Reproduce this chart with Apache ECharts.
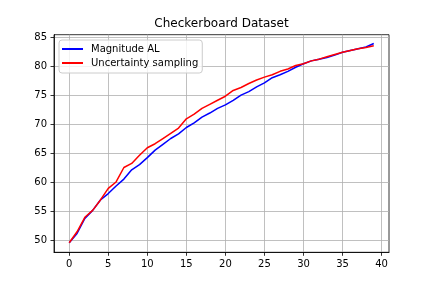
<!DOCTYPE html>
<html>
<head>
<meta charset="utf-8">
<script src="https://cdn.jsdelivr.net/npm/echarts@6/dist/echarts.min.js"></script>
<style>html,body{margin:0;padding:0;background:#fff;}#c{width:432px;height:288px;}</style>
</head>
<body>
<div id="c"></div>
<script>
const titleText = 'Checkerboard Dataset';
const seriesNames = ['Magnitude AL', 'Uncertainty sampling'];
const xValues = [0,1,2,3,4,5,6,7,8,9,10,11,12,13,14,15,16,17,18,19,20,21,22,23,24,25,26,27,28,29,30,31,32,33,34,35,36,37,38,39];
const magnitudeAL = [49.6, 51.2, 53.8, 55.2, 57.0, 58.1, 59.4, 60.6, 62.2, 63.1, 64.3, 65.6, 66.6, 67.6, 68.4, 69.5, 70.3, 71.3, 72.0, 72.8, 73.4, 74.2, 75.1, 75.7, 76.5, 77.2, 78.1, 78.6, 79.2, 79.9, 80.5, 81.0, 81.3, 81.6, 82.0, 82.5, 82.8, 83.1, 83.4, 84.0];
const uncertainty = [49.6, 51.5, 54.0, 55.2, 57.0, 59.0, 60.1, 62.6, 63.3, 64.7, 66.0, 66.7, 67.6, 68.5, 69.4, 71.0, 71.8, 72.8, 73.5, 74.2, 74.9, 75.9, 76.4, 77.1, 77.7, 78.2, 78.6, 79.2, 79.6, 80.2, 80.5, 81.0, 81.3, 81.7, 82.1, 82.5, 82.8, 83.1, 83.3, 83.6];
const xTicks = [0, 5, 10, 15, 20, 25, 30, 35, 40];
const yTicks = [50, 55, 60, 65, 70, 75, 80, 85];

const font = 'DejaVu Sans';
const chart = echarts.init(document.getElementById('c'), null, {renderer: 'canvas'});
const pairs = arr => xValues.map((x, i) => [x, arr[i]]);

const axisCommon = {
  type: 'value',
  axisLine: {show: true, onZero: false, lineStyle: {color: '#000', width: 0.8}},
  axisTick: {show: true, inside: false, length: 3.5, lineStyle: {color: '#000', width: 0.8}},
  splitLine: {show: true, lineStyle: {color: '#b0b0b0', width: 0.8}},
  axisLabel: {color: '#000', fontFamily: font, fontSize: 10, margin: 7, showMinLabel: true, showMaxLabel: true}
};

chart.setOption({
  animation: false,
  backgroundColor: '#fff',
  title: {
    text: titleText, left: 221.5, top: 18, textAlign: 'center', padding: 0,
    textStyle: {fontFamily: font, fontSize: 12, fontWeight: 'normal', color: '#000'}
  },
  grid: {left: 54, right: 43, top: 34.7, bottom: 35.7, show: true, borderColor: '#000', borderWidth: 0.8, backgroundColor: 'transparent'},
  xAxis: Object.assign({}, axisCommon, {
    min: -1.95, max: 40.95,
    axisTick: Object.assign({}, axisCommon.axisTick, {customValues: xTicks}),
    axisLabel: Object.assign({}, axisCommon.axisLabel, {customValues: xTicks}),
    splitLine: Object.assign({}, axisCommon.splitLine)
  }),
  yAxis: Object.assign({}, axisCommon, {
    min: 47.96, max: 85.52,
    axisTick: Object.assign({}, axisCommon.axisTick, {customValues: yTicks}),
    axisLabel: Object.assign({}, axisCommon.axisLabel, {customValues: yTicks}),
    splitLine: Object.assign({}, axisCommon.splitLine)
  }),
  legend: {
    orient: 'vertical', left: 59, top: 40,
    padding: [3, 4, 4, 3], itemGap: 2,
    itemWidth: 21, itemHeight: 2, icon: 'rect',
    backgroundColor: 'rgba(255,255,255,0.8)', borderColor: '#cccccc', borderWidth: 1, borderRadius: 3,
    textStyle: {fontFamily: font, fontSize: 10, color: '#000', lineHeight: 12, padding: [0, 0, 0, 3]},
    data: seriesNames
  },
  series: [
    {name: seriesNames[0], type: 'line', data: pairs(magnitudeAL), showSymbol: false, symbol: 'none',
     lineStyle: {color: '#0000ff', width: 1.5}, itemStyle: {color: '#0000ff'}},
    {name: seriesNames[1], type: 'line', data: pairs(uncertainty), showSymbol: false, symbol: 'none',
     lineStyle: {color: '#ff0000', width: 1.5}, itemStyle: {color: '#ff0000'}}
  ]
});
</script>
</body>
</html>
